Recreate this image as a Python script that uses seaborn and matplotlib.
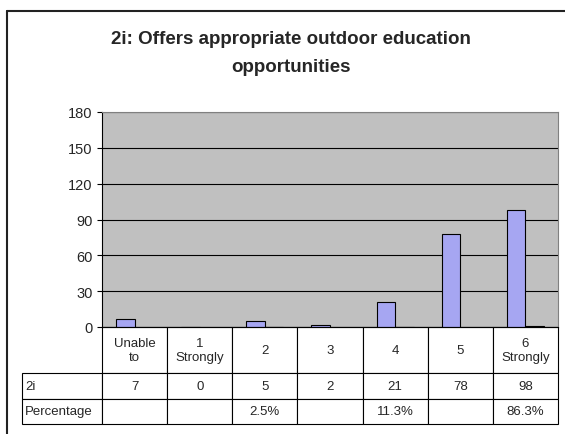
import numpy as np
import pandas as pd
import matplotlib
matplotlib.use('Agg')
import matplotlib.pyplot as plt
import seaborn as sns
from matplotlib.table import Table
from matplotlib.lines import Line2D

# Data
categories = ['Unable\nto', '1\nStrongly', '2', '3', '4', '5', '6\nStrongly']
counts = [7, 0, 5, 2, 21, 78, 98]
pct_labels = ['', '', '2.5%', '', '11.3%', '', '86.3%']
pct_values = [np.nan, np.nan, 0.025, np.nan, 0.113, np.nan, 0.863]
series = ['2i', 'Percentage']
yticks = [0, 30, 60, 90, 120, 150, 180]

sns.set_style('white')
plt.rcParams['font.family'] = ['Liberation Sans', 'DejaVu Sans']

W, H = 565, 435
fig = plt.figure(figsize=(W / 100, H / 100), dpi=100)
fig.patch.set_facecolor('white')

# plot area in pixel terms
x0, x1, ytop, ybot = 102, 558, 113, 328
ax = fig.add_axes([x0 / W, (H - ybot) / H, (x1 - x0) / W, (ybot - ytop) / H])

df = pd.DataFrame({
    'category': categories * 2,
    'series': [series[0]] * len(categories) + [series[1]] * len(categories),
    'value': counts + pct_values,
}).dropna()

sns.barplot(data=df, x='category', y='value', hue='series', order=categories,
            hue_order=series, palette=['#9999FF', '#993366'], width=4 / 7,
            edgecolor='black', linewidth=0.8, errorbar=None, legend=False, ax=ax)

ax.set_xlim(-0.5, len(categories) - 0.5)
ax.set_ylim(0, 180)
ax.set_yticks(yticks)
ax.set_xticks([])
ax.set_xlabel('')
ax.set_ylabel('')
ax.set_facecolor('#C0C0C0')
ax.yaxis.grid(True, color='black', linewidth=0.8)
ax.set_axisbelow(True)
ax.tick_params(axis='y', direction='out', length=3.6, width=0.8, pad=3,
               labelsize=10.5, color='black', left=True)
for side in ['left', 'bottom']:
    ax.spines[side].set_color('black')
    ax.spines[side].set_linewidth(0.8)
for side in ['top', 'right']:
    ax.spines[side].set_color('#808080')
    ax.spines[side].set_linewidth(0.8)

# data table under the plot
aw = x1 - x0
ah = ybot - ytop
label_w = 80
col_w = aw / len(categories)
tbl = Table(ax, bbox=[-label_w / aw, -97 / ah, (label_w + aw) / aw, 97 / ah])
rows = [[''] + categories,
        ['2i'] + [str(c) for c in counts],
        ['Percentage'] + pct_labels]
heights = [46, 25.5, 25.5]
for r, row in enumerate(rows):
    for c, txt in enumerate(row):
        loc = 'left' if (c == 0 and r > 0) else 'center'
        cell = tbl.add_cell(r, c, width=label_w if c == 0 else col_w,
                            height=heights[r], text=txt, loc=loc,
                            facecolor='white', edgecolor='black')
        cell.set_linewidth(0.8)
        cell.PAD = 0.04
tbl[0, 0].set_edgecolor('none')
tbl[0, 0].set_facecolor('none')
tbl.auto_set_font_size(False)
tbl.set_fontsize(9.5)
ax.add_table(tbl)

# title
fig.text(291 / W, (H - 40) / H, '2i: Offers appropriate outdoor education',
         ha='center', va='center', fontsize=13.5, fontweight='bold')
fig.text(291 / W, (H - 67) / H, 'opportunities',
         ha='center', va='center', fontsize=13.5, fontweight='bold')

# chart area border
fig.add_artist(Line2D([7 / W, 7 / W], [0, (H - 12) / H], transform=fig.transFigure,
                      color='#222222', linewidth=1.5))
fig.add_artist(Line2D([7 / W, 1], [(H - 12) / H, (H - 12) / H], transform=fig.transFigure,
                      color='#222222', linewidth=1.5))

fig.savefig('out.png', dpi=100)
